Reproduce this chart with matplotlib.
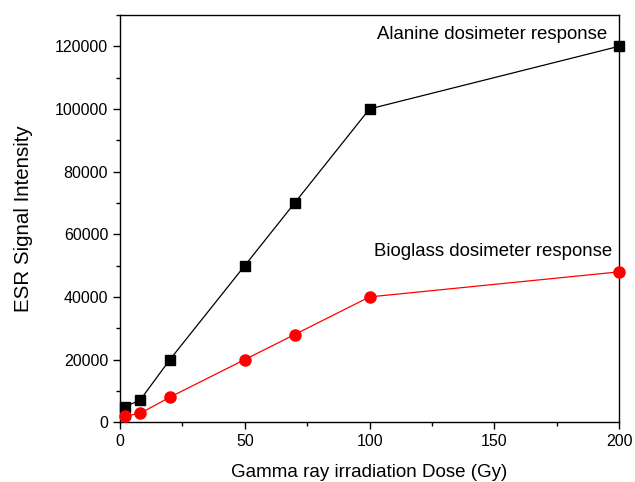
import matplotlib
matplotlib.use("Agg")
import matplotlib.pyplot as plt
from matplotlib.ticker import MultipleLocator

plt.rcParams['font.family'] = ['Liberation Sans', 'DejaVu Sans']

# Dose (Gy)
dose = [2, 8, 20, 50, 70, 100, 200]
# ESR signal intensity
alanine = [5000, 7000, 20000, 50000, 70000, 100000, 120000]
bioglass = [2000, 2800, 8000, 20000, 28000, 40000, 48000]

fig = plt.figure(figsize=(6.35, 4.82), dpi=100)
ax = fig.add_axes([0.189, 0.124, 0.786, 0.845])

ax.plot(dose, alanine, color='black', lw=0.9, marker='s', ms=7, clip_on=False, zorder=3)
ax.plot(dose, bioglass, color='red', lw=0.9, marker='o', ms=8, clip_on=False, zorder=3)

ax.set_xlim(0, 200)
ax.set_ylim(0, 130000)
ax.xaxis.set_major_locator(MultipleLocator(50))
ax.xaxis.set_minor_locator(MultipleLocator(25))
ax.yaxis.set_major_locator(MultipleLocator(20000))
ax.yaxis.set_minor_locator(MultipleLocator(10000))
ax.tick_params(which='major', direction='out', length=5, width=1, labelsize=11.5)
ax.tick_params(which='minor', direction='out', length=3, width=1)
for s in ax.spines.values():
    s.set_linewidth(1)

ax.set_xlabel('Gamma ray irradiation Dose (Gy)', fontsize=13.5, labelpad=11)
ax.set_ylabel('ESR Signal Intensity', fontsize=14.8, labelpad=16)

ax.text(0.976, 0.951, 'Alanine dosimeter response', transform=ax.transAxes,
        ha='right', va='center', fontsize=13.4)
ax.text(0.986, 0.418, 'Bioglass dosimeter response', transform=ax.transAxes,
        ha='right', va='center', fontsize=13.4)

fig.savefig('out.png', dpi=100)
